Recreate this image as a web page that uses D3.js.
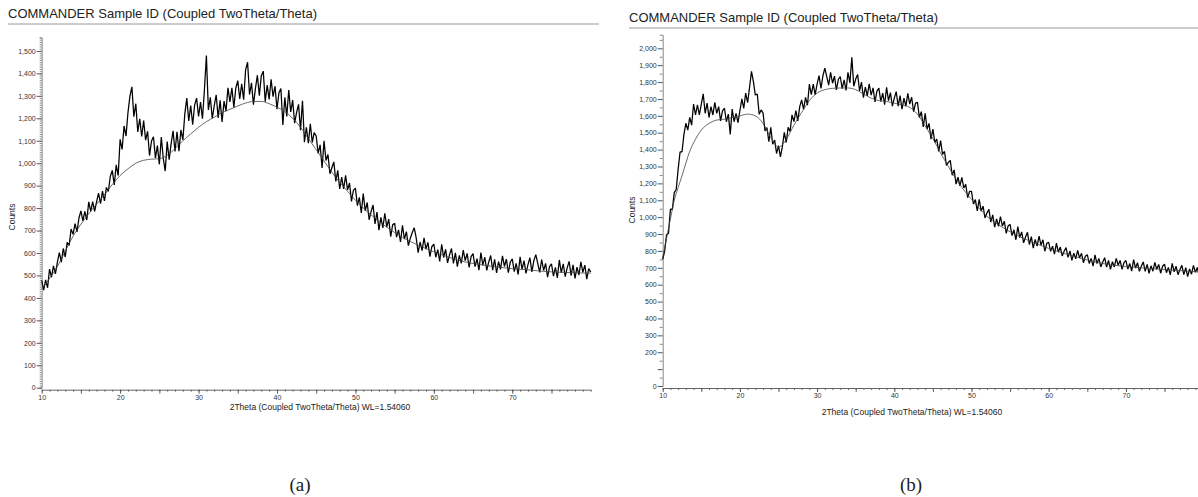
<!DOCTYPE html>
<meta charset="utf-8">
<style>
    body { margin: 0; background: #fff; }
    svg text { font-family: "Liberation Sans", Arial, sans-serif; fill: #222; }
    .title { font-size: 13px; }
    .tick text { font-size: 7px; fill: #333; }
    .axis-title { font-size: 8.5px; }
    .caption { font-family: "Liberation Serif", "Times New Roman", serif !important; font-size: 19px; }
</style>
<svg width="1198" height="497"></svg>
<script src="https://d3js.org/d3.v7.min.js"></script>
<script>

    // 2Theta grid: first angle and step between samples (degrees)
    var thetaStart = 10,
        thetaStep = 0.25;

    // (a) measured counts, one per 0.25 deg from 10 to 80
    var countsA = [
        478, 435, 480, 445,   528, 492, 543, 507,   559, 602, 559, 620,   582, 647, 634, 707,
        683, 731, 694, 756,   788, 743, 785, 747,   828, 785, 829, 785,   829, 867, 820, 876,
        832, 892, 874, 942,   968, 903, 993, 945,   1106, 1061, 1166, 1121, 1226, 1299, 1340, 1207,
        1265, 1139, 1198, 1119, 1190, 1103, 1142, 1034, 1099, 1118, 1023, 1078, 995, 1116, 1021, 965,
        1096, 1016, 1086, 1144, 1052, 1140, 1054, 1148, 1104, 1220, 1290, 1188, 1257, 1171, 1259, 1290,
        1208, 1272, 1198, 1328, 1480, 1237, 1293, 1199, 1256, 1304, 1202, 1280, 1184, 1277, 1232, 1336,
        1273, 1336, 1248, 1335, 1368, 1286, 1353, 1283, 1416, 1450, 1306, 1358, 1261, 1332, 1392, 1301,
        1390, 1410, 1274, 1348, 1284, 1374, 1296, 1343, 1241, 1314, 1333, 1170, 1293, 1208, 1326, 1228,
        1281, 1178, 1226, 1262, 1147, 1278, 1094, 1160, 1089, 1175, 1093, 1137, 1121, 1044, 1082, 979,
        1100, 1012, 1039, 953,  980, 1006, 919, 968,  885, 938, 885, 946,   881, 912, 830, 880,
        889, 811, 848, 779,   865, 788, 825, 748,   785, 814, 730, 782,   702, 759, 712, 777,
        716, 751, 673, 726,   732, 671, 703, 649,   723, 662, 695, 633,   666, 691, 712, 667,
        602, 649, 611, 667,   617, 647, 584, 629,   640, 581, 615, 563,   639, 580, 616, 556,
        592, 620, 554, 601,   539, 589, 554, 613,   566, 598, 536, 584,   597, 539, 575, 524,
        602, 545, 581, 523,   560, 589, 524, 572,   511, 562, 527, 587,   540, 573, 512, 560,
        574, 517, 554, 504,   583, 527, 566, 509,   548, 579, 516, 566,   593, 554, 514, 571,
        522, 554, 492, 539,   552, 497, 536, 489,   569, 513, 552, 495,   534, 563, 499, 547,
        487, 537, 502, 561,   514, 546, 484, 531,   515
    ];

    // (a) fitted background curve
    var bgThetaA = [10, 12, 14, 16, 18, 19, 20, 21, 22, 23, 24, 25, 26, 27, 28, 29, 30, 31, 32, 33, 34, 35,
        36, 37, 38, 39, 40, 41, 42, 43, 44, 45, 46, 47, 48, 49, 50, 52, 54, 56, 58, 60, 62, 64, 66, 68, 70,
        72, 74, 76, 78, 80];
    var bgCountsA = [440, 540, 675, 775, 860, 905, 945, 975, 1000, 1013, 1018, 1020, 1035, 1065, 1100, 1130,
        1160, 1185, 1205, 1225, 1240, 1255, 1268, 1275, 1275, 1265, 1250, 1230, 1200, 1160, 1110, 1060, 1010,
        960, 915, 875, 835, 770, 715, 670, 635, 605, 580, 560, 548, 538, 530, 525, 518, 514, 512, 510];

    // (b) measured counts, one per 0.25 deg from 10 to 80
    var countsB = [
        750, 797, 896, 905,   1047, 1046, 1145, 1164, 1283, 1386, 1386, 1490, 1556, 1515, 1591, 1545,
        1670, 1605, 1665, 1605, 1669, 1730, 1615, 1675, 1590, 1655, 1605, 1680, 1615, 1655, 1570, 1630,
        1645, 1565, 1610, 1490, 1640, 1565, 1615, 1560, 1630, 1700, 1644, 1735, 1678, 1768, 1863, 1803,
        1723, 1729, 1609, 1635, 1616, 1511, 1531, 1447, 1532, 1432, 1457, 1377, 1423, 1357, 1417, 1502,
        1442, 1532, 1507, 1606, 1566, 1631, 1570, 1655, 1694, 1639, 1709, 1663, 1788, 1726, 1788, 1726,
        1788, 1838, 1763, 1837, 1882, 1832, 1782, 1858, 1793, 1835, 1753, 1815, 1833, 1761, 1813, 1750,
        1858, 1795, 1947, 1775, 1818, 1845, 1748, 1800, 1708, 1770, 1718, 1790, 1723, 1766, 1683, 1746,
        1764, 1686, 1734, 1666, 1769, 1690, 1737, 1658, 1705, 1743, 1657, 1720, 1639, 1705, 1657, 1733,
        1670, 1710, 1625, 1675, 1680, 1590, 1625, 1535, 1615, 1522, 1555, 1462, 1522, 1442, 1462, 1390,
        1454, 1372, 1389, 1307, 1324, 1336, 1248, 1280, 1196, 1237, 1186, 1236, 1173, 1194, 1115, 1152,
        1153, 1078, 1104, 1037, 1106, 1036, 1065, 995,  1024, 1047, 971, 1014,  941, 990, 946, 1003,
        947, 976, 904, 949,   957, 891, 925, 866,   944, 879, 913, 848,   882, 910, 837, 885,
        816, 868, 828, 887,   835, 866, 798, 845,   851, 798, 828, 781,   846, 793, 823, 770,
        798, 820, 762, 800,   744, 787, 753, 803,   759, 786, 730, 769,   778, 726, 756, 710,
        776, 725, 756, 705,   735, 760, 704, 744,   691, 736, 705, 756,   715, 744, 691, 731,
        743, 693, 725, 680,   748, 698, 730, 679,   710, 735, 679, 720,   667, 712, 680, 732,
        691, 720, 668, 709,   721, 671, 702, 658,   726, 676, 709, 659,   690, 715, 660, 701,
        648, 693, 662, 714,   673, 702, 649, 691,   677
    ];

    // (b) fitted background curve
    var bgThetaB = [10, 11, 11.5, 12, 12.5, 13, 13.5, 14, 15, 16, 17, 18, 19, 20, 21, 22, 23, 24, 25, 26, 27,
        28, 29, 30, 31, 32, 33, 34, 35, 36, 37, 38, 39, 40, 41, 42, 43, 44, 45, 46, 47, 48, 50, 52, 54, 56,
        58, 60, 62, 64, 66, 68, 70, 72, 74, 76, 78, 80];
    var bgCountsB = [760, 990, 1100, 1175, 1245, 1320, 1390, 1440, 1516, 1555, 1575, 1580, 1590, 1600, 1610,
        1600, 1555, 1470, 1415, 1460, 1545, 1620, 1690, 1735, 1755, 1763, 1765, 1765, 1755, 1730, 1705, 1690,
        1685, 1675, 1665, 1650, 1610, 1540, 1465, 1380, 1300, 1225, 1105, 1005, 940, 890, 850, 815, 785, 758,
        735, 718, 708, 700, 693, 686, 680, 674];

    var yTicksA = d3.range(0, 1501, 100),
        yTicksB = d3.range(0, 2001, 100),
        xTicks = [10, 20, 30, 40, 50, 60, 70];

    var titleText = "COMMANDER Sample ID (Coupled TwoTheta/Theta)",
        xTitleText = "2Theta (Coupled TwoTheta/Theta) WL=1.54060";

    var svg = d3.select("svg");
    var fmt = d3.format(",");

    function toPoints(counts) {
        return counts.map(function (c, i) { return [thetaStart + i * thetaStep, c]; });
    }

    function drawPanel(p) {
        var g = svg.append("g");
        var x = d3.scaleLinear().domain([10, 80]).range([p.x0, p.x1]);
        var y = d3.scaleLinear().domain([0, p.yMax]).range([p.y0, p.y1]);

        // title and rule under it
        g.append("text").attr("class", "title")
            .attr("x", p.titleX).attr("y", p.titleY).text(titleText);
        g.append("line")
            .attr("x1", p.titleX).attr("x2", p.ruleEnd)
            .attr("y1", p.ruleY).attr("y2", p.ruleY)
            .attr("stroke", "#999").attr("stroke-width", 1.2);

        // y axis: minor ticks then labelled ticks
        var yMinor = g.append("g").attr("transform", "translate(" + p.x0 + ",0)")
            .call(d3.axisLeft(y).tickValues(p.yMinor).tickSize(p.minorLen).tickFormat(""));
        yMinor.select(".domain").attr("stroke", "#888");
        yMinor.selectAll(".tick line").attr("stroke", "#888");
        var yAxis = g.append("g").attr("transform", "translate(" + p.x0 + ",0)")
            .call(d3.axisLeft(y).tickValues(p.yTicks).tickSize(5).tickPadding(1)
                .tickFormat(function (d) { return p.skip.indexOf(d) >= 0 ? "" : fmt(d); }));
        yAxis.select(".domain").remove();
        yAxis.selectAll(".tick line").attr("stroke", "#555");

        // x axis
        var axisY = p.y0 + 2;
        var xMinor = g.append("g").attr("transform", "translate(0," + axisY + ")")
            .call(d3.axisBottom(x).tickValues(d3.range(10, 81, 1)).tickSizeInner(2).tickSizeOuter(0).tickFormat(""));
        xMinor.select(".domain").attr("stroke", "#666");
        xMinor.selectAll(".tick line").attr("stroke", "#666");
        var xMid = g.append("g").attr("transform", "translate(0," + axisY + ")")
            .call(d3.axisBottom(x).tickValues(d3.range(15, 80, 10)).tickSize(4).tickFormat(""));
        xMid.select(".domain").remove();
        xMid.selectAll(".tick line").attr("stroke", "#666");
        var xAxis = g.append("g").attr("transform", "translate(0," + axisY + ")")
            .call(d3.axisBottom(x).tickValues(xTicks).tickSize(4).tickPadding(1));
        xAxis.select(".domain").remove();
        xAxis.selectAll(".tick line").attr("stroke", "#555");

        // axis titles
        g.append("text").attr("class", "axis-title")
            .attr("transform", "translate(" + p.countsX + "," + p.countsY + ") rotate(-90)")
            .attr("text-anchor", "middle").text("Counts");
        g.append("text").attr("class", "axis-title")
            .attr("x", p.xTitleX).attr("y", p.xTitleY)
            .attr("text-anchor", "middle").text(xTitleText);

        var line = d3.line()
            .x(function (d) { return x(d[0]); })
            .y(function (d) { return y(d[1]); });

        // measured pattern
        g.append("path")
            .datum(toPoints(p.counts))
            .attr("d", line)
            .attr("fill", "none")
            .attr("stroke", "#000")
            .attr("stroke-width", 1.25)
            .attr("stroke-linejoin", "bevel");

        // background
        var bgLine = d3.line()
            .x(function (d) { return x(d[0]); })
            .y(function (d) { return y(d[1]); })
            .curve(d3.curveMonotoneX);
        g.append("path")
            .datum(p.bgTheta.map(function (t, i) { return [t, p.bgCounts[i]]; }))
            .attr("d", bgLine)
            .attr("fill", "none")
            .attr("stroke", "#444")
            .attr("stroke-width", 0.8);

        g.append("text").attr("class", "caption")
            .attr("x", p.capX).attr("y", 491)
            .attr("text-anchor", "middle").text(p.caption);
    }

    drawPanel({
        x0: 41.7, x1: 590.7, y0: 387.7, y1: 387.7 - 1560 * 0.2245, yMax: 1560,
        yTicks: yTicksA, yMinor: d3.range(0, 1561, 10), minorLen: 2, skip: [],
        counts: countsA, bgTheta: bgThetaA, bgCounts: bgCountsA,
        titleX: 8, titleY: 18, ruleY: 24, ruleEnd: 599,
        countsX: 15, countsY: 217, xTitleX: 320, xTitleY: 410,
        capX: 300, caption: "(a)"
    });

    drawPanel({
        x0: 662.7, x1: 1203.1, y0: 386, y1: 386 - 2080 * 0.16885, yMax: 2080,
        yTicks: yTicksB, yMinor: d3.range(50, 2051, 100), minorLen: 3, skip: [100],
        counts: countsB, bgTheta: bgThetaB, bgCounts: bgCountsB,
        titleX: 629, titleY: 22, ruleY: 28, ruleEnd: 1198,
        countsX: 635, countsY: 210, xTitleX: 912, xTitleY: 415,
        capX: 911, caption: "(b)"
    });
</script>
